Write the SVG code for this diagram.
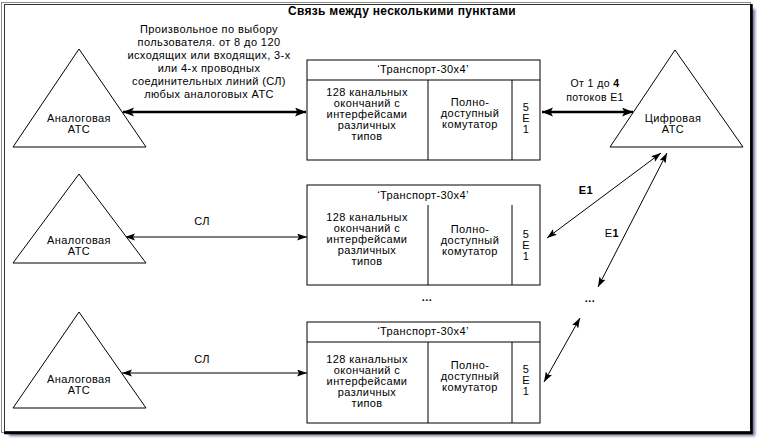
<svg xmlns="http://www.w3.org/2000/svg" width="762" height="443" viewBox="0 0 762 443">
<style>
text{font-family:"Liberation Sans",Arial,sans-serif;font-size:11px;letter-spacing:0.4px;fill:#000;text-anchor:middle}
.title{font-size:12px;font-weight:bold;letter-spacing:0.3px}
.sm{font-size:10.5px}
.b{font-weight:bold}
.shape{fill:#fff;stroke:#000;stroke-width:1}
.div{stroke:#000;stroke-width:1}
.thick{stroke:#000;stroke-width:2.5;fill:none}
.thin{stroke:#000;stroke-width:1;fill:none}
</style>
<defs>
<marker id="ah" markerUnits="userSpaceOnUse" markerWidth="12" markerHeight="10" refX="11" refY="4.5" orient="auto-start-reverse" viewBox="0 0 12 10">
<path d="M0,0 L11,4.5 L0,9 L2.5,4.5 z" fill="#000"/>
</marker>
<marker id="at" markerUnits="userSpaceOnUse" markerWidth="11" markerHeight="8" refX="10" refY="3.5" orient="auto-start-reverse" viewBox="0 0 11 8">
<path d="M0,0 L10,3.5 L0,7 L2,3.5 z" fill="#000"/>
</marker>
<filter id="sh" x="-5%" y="-5%" width="110%" height="110%">
<feGaussianBlur stdDeviation="1.5"/>
</filter>
</defs>
<rect x="0" y="0" width="762" height="443" fill="#fff"/>
<g id="frame">
<rect x="9" y="9" width="746" height="427" fill="#6e6e96" filter="url(#sh)"/>
<rect x="1.5" y="2.5" width="749" height="430" fill="#fff" stroke="#8c8c8c" stroke-width="1"/>
<rect x="4.5" y="4.5" width="746" height="427" fill="#fff" stroke="#333" stroke-width="1"/>
<path d="M751.5,4 V433 H4" fill="none" stroke="#000" stroke-width="2.5"/>
</g>
<text class="title" x="402" y="15">Связь между несколькими пунктами</text>
<g id="connectors">
<line class="thick" x1="123" y1="112" x2="306" y2="112" marker-start="url(#ah)" marker-end="url(#ah)"/>
<line class="thick" x1="542" y1="112" x2="633" y2="112" marker-start="url(#ah)" marker-end="url(#ah)"/>
<line class="thin" x1="125" y1="237" x2="307" y2="237" marker-start="url(#at)" marker-end="url(#at)"/>
<line class="thin" x1="122" y1="373" x2="307" y2="373" marker-start="url(#at)" marker-end="url(#at)"/>
<line class="thin" x1="547" y1="238" x2="661" y2="153" marker-start="url(#at)" marker-end="url(#at)"/>
<line class="thin" x1="598" y1="287" x2="667" y2="153" marker-start="url(#at)" marker-end="url(#at)"/>
<line class="thin" x1="544" y1="382" x2="580" y2="318" marker-start="url(#at)" marker-end="url(#at)"/>
</g>
<g id="label-left">
<text x="209" y="33">Произвольное по выбору</text>
<text x="209" y="46">пользователя. от 8 до 120</text>
<text x="209" y="59">исходящих или входящих, 3-х</text>
<text x="209" y="72">или 4-х проводных</text>
<text x="209" y="85">соединительных линий (СЛ)</text>
<text x="209" y="98">любых аналоговых АТС</text>
</g>
<g id="label-right">
<text class="sm" x="595" y="87">От 1 до <tspan class="b">4</tspan></text>
<text class="sm" x="595" y="101">потоков E1</text>
</g>
<text x="202" y="225">СЛ</text>
<text x="202" y="363">СЛ</text>
<text class="b" x="586" y="194">E1</text>
<text x="612" y="237">E<tspan class="b">1</tspan></text>
<text class="b" x="427" y="301">...</text>
<text class="b" x="590" y="302">...</text>
<g id="atc1">
<polygon class="shape" points="79,49 146,147 13,147"/>
<text x="79" y="122">Аналоговая</text>
<text x="79" y="133">АТС</text>
</g>
<g id="atc2">
<polygon class="shape" points="79,174 146,263 13,263"/>
<text x="79" y="244">Аналоговая</text>
<text x="79" y="255">АТС</text>
</g>
<g id="atc3">
<polygon class="shape" points="79,312 146,408 13,408"/>
<text x="79" y="383">Аналоговая</text>
<text x="79" y="394">АТС</text>
</g>
<g id="atc-digital">
<polygon class="shape" points="675,50 743,147 610,147"/>
<text x="673" y="122">Цифровая</text>
<text x="673" y="133">АТС</text>
</g>
<g id="box1">
<rect class="shape" x="307" y="60" width="233" height="100"/>
<line class="div" x1="307" y1="80" x2="540" y2="80"/>
<line class="div" x1="428" y1="80" x2="428" y2="160"/>
<line class="div" x1="512" y1="80" x2="512" y2="160"/>
<text x="423" y="73">‘Транспорт-30x4’</text>
<text x="367" y="96">128 канальных</text>
<text x="367" y="107">окончаний с</text>
<text x="367" y="118">интерфейсами</text>
<text x="367" y="129">различных</text>
<text x="367" y="140">типов</text>
<text x="470" y="106">Полно-</text>
<text x="470" y="117">доступный</text>
<text x="470" y="128">комутатор</text>
<text x="526" y="111">5</text>
<text x="526" y="122">E</text>
<text x="526" y="133">1</text>
</g>
<g id="box2">
<rect class="shape" x="307" y="185" width="233" height="100"/>
<line class="div" x1="428" y1="205" x2="428" y2="285"/>
<line class="div" x1="512" y1="205" x2="512" y2="285"/>
<text x="423" y="199">‘Транспорт-30x4’</text>
<text x="367" y="221">128 канальных</text>
<text x="367" y="232">окончаний с</text>
<text x="367" y="243">интерфейсами</text>
<text x="367" y="254">различных</text>
<text x="367" y="265">типов</text>
<text x="470" y="233">Полно-</text>
<text x="470" y="244">доступный</text>
<text x="470" y="255">комутатор</text>
<text x="526" y="238">5</text>
<text x="526" y="249">E</text>
<text x="526" y="260">1</text>
</g>
<g id="box3">
<rect class="shape" x="307" y="322" width="233" height="101"/>
<line class="div" x1="307" y1="342" x2="540" y2="342"/>
<line class="div" x1="428" y1="342" x2="428" y2="423"/>
<line class="div" x1="512" y1="342" x2="512" y2="423"/>
<text x="423" y="335">‘Транспорт-30x4’</text>
<text x="367" y="363">128 канальных</text>
<text x="367" y="374">окончаний с</text>
<text x="367" y="385">интерфейсами</text>
<text x="367" y="396">различных</text>
<text x="367" y="407">типов</text>
<text x="470" y="369">Полно-</text>
<text x="470" y="380">доступный</text>
<text x="470" y="391">комутатор</text>
<text x="526" y="373">5</text>
<text x="526" y="384">E</text>
<text x="526" y="395">1</text>
</g>
</svg>
